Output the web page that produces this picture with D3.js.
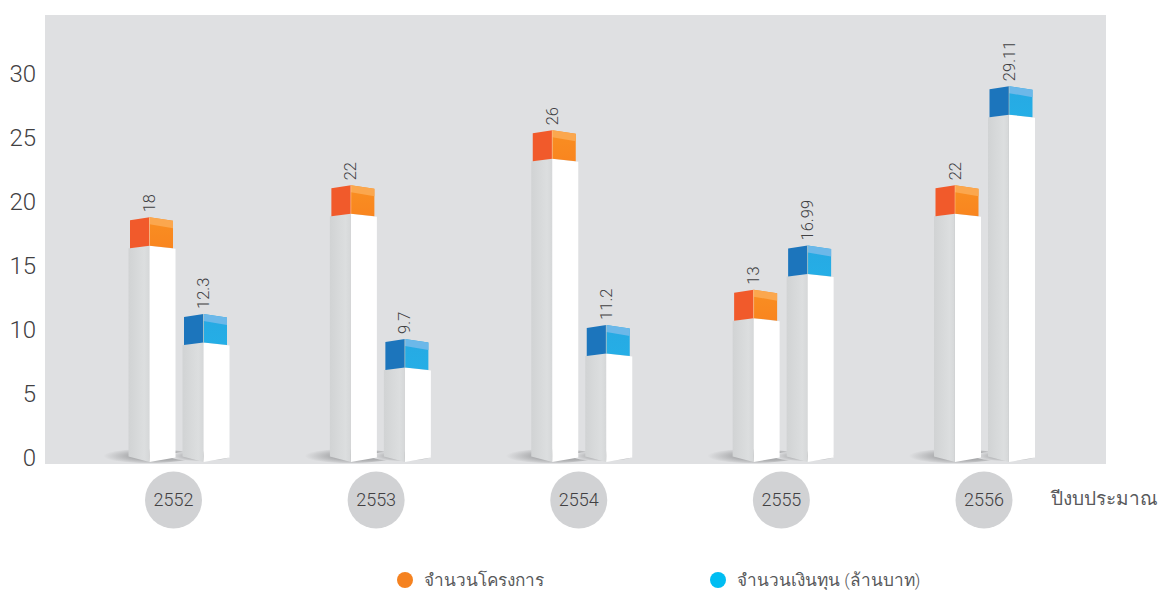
<!DOCTYPE html>
<html><head><meta charset="utf-8">
<script src="https://cdn.jsdelivr.net/npm/d3@7"></script>
<style>
html,body{margin:0;padding:0;background:#fff}
svg{display:block}
text{font-family:"Roboto","Liberation Sans","Noto Sans",sans-serif;font-weight:300}
</style></head><body><svg id="c" width="1160" height="590"></svg>
<script>
const years = ["2552","2553","2554","2555","2556"];
const projectLabels = ["18","22","26","13","22"];
const budgetLabels = ["12.3","9.7","11.2","16.99","29.11"];
// Top of each drawn bar, read against the left axis
const projectTops = [18.8,21.3,25.6,13.15,21.3];
const budgetTops = [11.25,9.3,10.4,16.6,29.05];
const yTicks = [0,5,10,15,20,25,30];
const seriesNames = ["จำนวนโครงการ","จำนวนเงินทุน (ล้านบาท)"];
const xTitle = "ปีงบประมาณ";

const svg = d3.select("#c");
const y = d3.scaleLinear().domain([0,30]).range([458,74]);
const xGroup = d3.scalePoint().domain(years).range([149.5,955]);
const xBadge = d3.scalePoint().domain(years).range([173.5,984]);

const defs = svg.append("defs");
function lin(id, stops, x2=1, y2=0){
  const g = defs.append("linearGradient").attr("id",id).attr("x1",0).attr("y1",0).attr("x2",x2).attr("y2",y2);
  stops.forEach(([o,c,a])=>g.append("stop").attr("offset",o).attr("stop-color",c).attr("stop-opacity",a??1));
}
lin("bodyL",[[0,"#d1d3d4"],[0.75,"#dcdedf"],[0.97,"#d6d8d9"],[1,"#bfc1c2"]]);
lin("orR",[[0,"#f98f22"],[1,"#f9851f"]],0,1);
lin("blR",[[0,"#27a9e3"],[1,"#25aee6"]],0,1);
const rg = defs.append("radialGradient").attr("id","sh").attr("cx",0.62).attr("cy",0.5).attr("r",0.6);
rg.append("stop").attr("offset",0).attr("stop-color","#8f9092");
rg.append("stop").attr("offset",0.55).attr("stop-color","#b0b1b3");
rg.append("stop").attr("offset",1).attr("stop-color","#dfe0e2");

svg.append("rect").attr("x",45).attr("y",15).attr("width",1061).attr("height",449).attr("fill","#dfe0e2");

const axis = d3.axisLeft(y).tickValues(yTicks).tickSize(0).tickPadding(9);
const gAxis = svg.append("g").attr("transform","translate(45,0)").call(axis);
gAxis.select(".domain").remove();
gAxis.selectAll("text").attr("font-size",24).attr("fill","#414042").attr("dy","0.32em");

const palettes = [
  {left:"#f15a2b",right:"url(#orR)",band:"#fba74e"},
  {left:"#1c75bc",right:"url(#blR)",band:"#6cb8e9"}
];
const seriesTops = [projectTops,budgetTops];
const seriesLabels = [projectLabels,budgetLabels];
const barOffset = [0,54];
const poly = (g,pts,fill)=>g.append("polygon").attr("points",pts.map(p=>p.join(",")).join(" ")).attr("fill",fill);

years.forEach((yr,i)=>{
  const cx0 = xGroup(yr);
  svg.append("ellipse").attr("cx",cx0-2).attr("cy",456).attr("rx",46).attr("ry",7).attr("fill","url(#sh)");
  svg.append("ellipse").attr("cx",cx0+50).attr("cy",456).attr("rx",30).attr("ry",5).attr("fill","url(#sh)");
});

years.forEach((yr,i)=>{
  [0,1].forEach(s=>{
    const m = xGroup(yr)+barOffset[s], p = palettes[s];
    const top = y(seriesTops[s][i]);
    const g = svg.append("g");
    const capB = top+28.5;
    const foot = y(0)+4;
    poly(g,[[m-21,capB+2.5],[m,capB],[m,foot],[m-21,foot-5.5]],"url(#bodyL)");
    poly(g,[[m,capB],[m+26,capB+3],[m+26,foot-4.5],[m,foot]],"#ffffff");
    poly(g,[[m-19.5,top+3],[m,top],[m,capB],[m-19.5,capB+2.5]],p.left);
    poly(g,[[m,top],[m+23.5,top+3.5],[m+23.5,capB+2.5],[m,capB]],p.right);
    poly(g,[[m,top],[m+23.5,top+3.5],[m+23.5,top+11],[m,top+7]],p.band);
    g.append("line").attr("x1",m).attr("x2",m).attr("y1",top).attr("y2",capB).attr("stroke","#ffd9b0").attr("stroke-opacity",0.55).attr("stroke-width",0.8);
    g.append("text").attr("transform",`translate(${m+5.5},${top-5}) rotate(-90)`)
      .attr("font-size",16.5).attr("fill","#414042").text(seriesLabels[s][i]);
  });
});

const badges = svg.append("g").selectAll("g").data(years).join("g")
  .attr("transform",d=>`translate(${xBadge(d)},500)`);
badges.append("circle").attr("r",28.5).attr("fill","#d1d2d4");
badges.append("text").attr("text-anchor","middle").attr("dy","0.36em").attr("font-size",18).attr("fill","#414042").text(d=>d);

svg.append("text").attr("x",1051).attr("y",505).attr("font-size",19).attr("fill","#58595b").text(xTitle);

const legendColors = ["#f58220","#00bdf2"];
const legendX = [405,718];
seriesNames.forEach((n,i)=>{
  svg.append("circle").attr("cx",legendX[i]).attr("cy",580).attr("r",8).attr("fill",legendColors[i]);
  svg.append("text").attr("x",legendX[i]+19).attr("y",586).attr("font-size",17.2).attr("fill","#58595b").text(n);
});
</script></body></html>
